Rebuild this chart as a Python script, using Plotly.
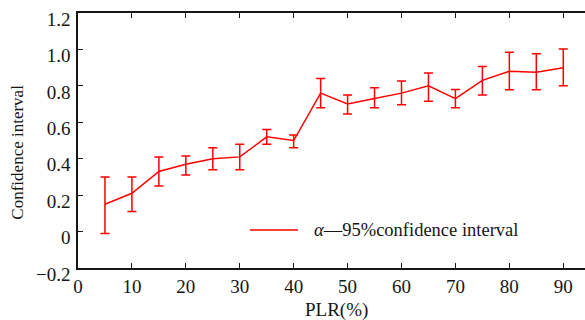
import plotly.graph_objects as go

plr = [5, 10, 15, 20, 25, 30, 35, 40, 45, 50, 55, 60, 65, 70, 75, 80, 85, 90]
mean_ci = [0.15, 0.21, 0.33, 0.37, 0.40, 0.41, 0.52, 0.50, 0.76, 0.70, 0.73, 0.76, 0.80, 0.73, 0.83, 0.88, 0.875, 0.90]
upper = [0.30, 0.30, 0.41, 0.415, 0.46, 0.48, 0.56, 0.53, 0.84, 0.75, 0.79, 0.826, 0.87, 0.78, 0.906, 0.985, 0.976, 1.003]
lower = [-0.01, 0.11, 0.25, 0.31, 0.34, 0.34, 0.48, 0.46, 0.68, 0.645, 0.68, 0.696, 0.716, 0.68, 0.75, 0.778, 0.778, 0.80]

y_tickvals = [-0.2, 0, 0.2, 0.4, 0.6, 0.8, 1.0, 1.2]
y_ticktext = ["\u22120.2", "0", "0.2", "0.4", "0.6", "0.8", "1.0", "1.2"]
x_tickvals = [0, 10, 20, 30, 40, 50, 60, 70, 80, 90]
legend_label = "<i>\u03b1</i>\u201495%confidence interval"
x_title = "PLR(%)"
y_title = "Confidence interval"

err_plus = [u - m for u, m in zip(upper, mean_ci)]
err_minus = [m - l for m, l in zip(mean_ci, lower)]

font_family = "Times New Roman, Liberation Serif, DejaVu Serif, serif"
RED = "#ff0000"
INK = "#161616"

fig = go.Figure()
fig.add_trace(go.Scatter(
    x=plr, y=mean_ci, mode="lines",
    line=dict(color=RED, width=1.5),
    error_y=dict(type="data", symmetric=False, array=err_plus, arrayminus=err_minus,
                 color=RED, thickness=1.5, width=4.5),
    name=legend_label, showlegend=False,
))

# legend drawn as sample line + label
fig.add_shape(type="line", xref="paper", yref="paper",
              x0=0.339, x1=0.434, y0=0.149, y1=0.149,
              line=dict(color=RED, width=1.5))
fig.add_annotation(xref="paper", yref="paper", x=0.462, y=0.149,
                   xanchor="left", yanchor="middle", showarrow=False,
                   text=legend_label, font=dict(size=18.5, family=font_family, color=INK))

# axis titles
fig.add_annotation(xref="paper", yref="paper", x=0.51, y=-0.163,
                   xanchor="center", yanchor="middle", showarrow=False,
                   text=x_title, font=dict(size=19, family=font_family, color=INK))
fig.add_annotation(xref="paper", yref="paper", x=-0.119, y=0.455,
                   xanchor="center", yanchor="middle", showarrow=False, textangle=-90,
                   text=y_title, font=dict(size=17, family=font_family, color=INK))

fig.update_layout(
    width=585, height=320,
    margin=dict(l=78, r=0, t=13, b=52),
    paper_bgcolor="white", plot_bgcolor="white",
    font=dict(family=font_family, size=19, color=INK),
    showlegend=False,
    xaxis=dict(
        range=[0, 94.03], tickvals=x_tickvals, automargin=False,
        ticks="inside", ticklen=5, tickcolor=INK,
        showline=True, linecolor=INK, linewidth=1.5, mirror="ticks",
        showgrid=False, zeroline=False,
        tickfont=dict(size=19, family=font_family, color=INK),
    ),
    yaxis=dict(
        range=[-0.2, 1.2], tickvals=y_tickvals, ticktext=y_ticktext, automargin=False,
        ticks="inside", ticklen=5, tickcolor=INK,
        showline=True, linecolor=INK, linewidth=1.5,
        showgrid=False, zeroline=False,
        tickfont=dict(size=19, family=font_family, color=INK),
        ticklabelshift=6, ticklabelstandoff=2,
    ),
)

fig.write_html("out.html", config={"displayModeBar": False},
               post_script="document.body.style.margin='0';document.body.style.padding='0';")
